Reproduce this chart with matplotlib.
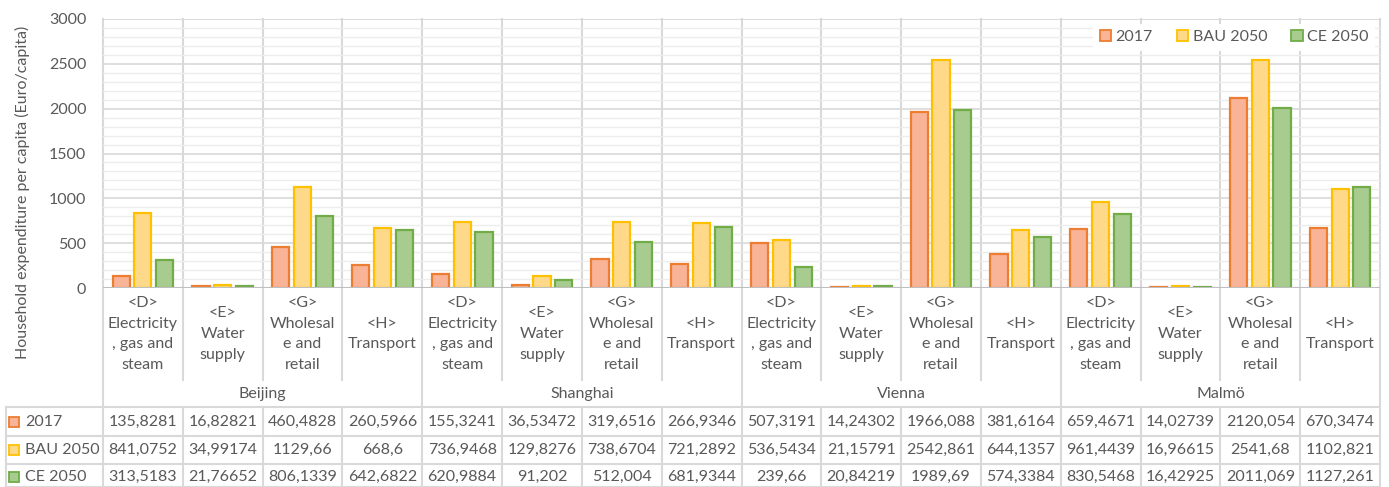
import matplotlib.pyplot as plt
import matplotlib.transforms as mtransforms
from matplotlib.patches import Patch, Rectangle
import numpy as np

plt.rcParams['font.family'] = ['Lato', 'DejaVu Sans']

cities = ['Beijing', 'Shanghai', 'Vienna', 'Malmö']
sectors = ['<D>\nElectricity\n, gas and\nsteam', '<E>\nWater\nsupply',
           '<G>\nWholesal\ne and\nretail', '<H>\nTransport']
series = ['2017', 'BAU 2050', 'CE 2050']

v2017 = [135.8281, 16.82821, 460.4828, 260.5966,
         155.3241, 36.53472, 319.6516, 266.9346,
         507.3191, 14.24302, 1966.088, 381.6164,
         659.4671, 14.02739, 2120.054, 670.3474]
bau2050 = [841.0752, 34.99174, 1129.66, 668.6,
           736.9468, 129.8276, 738.6704, 721.2892,
           536.5434, 21.15791, 2542.861, 644.1357,
           961.4439, 16.96615, 2541.68, 1102.821]
ce2050 = [313.5183, 21.76652, 806.1339, 642.6822,
          620.9884, 91.202, 512.004, 681.9344,
          239.66, 20.84219, 1989.69, 574.3384,
          830.5468, 16.42925, 2011.069, 1127.261]

fills = ['#F9B497', '#FFD98A', '#A8CC8F']
edges = ['#ED7D31', '#FFC000', '#70AD47']
txt = '#595959'
grid = '#D9D9D9'

W, H = 1389, 487
fig = plt.figure(figsize=(W / 100, H / 100), dpi=100)
ax = fig.add_axes([103 / W, 1 - 288 / H, 1277 / W, 269 / H])

n = len(v2017)
x = np.arange(n) + 0.5
offs = [-0.273, 0, 0.273]
for vals, off, fc, ec, lab in zip([v2017, bau2050, ce2050], offs, fills, edges, series):
    ax.bar(x + off, vals, width=0.215, color=fc, edgecolor=ec, linewidth=1.6, label=lab, zorder=3)

ax.set_xlim(0, n)
ax.set_ylim(0, 3000)
ax.set_yticks(np.arange(0, 3001, 500))
ax.set_yticks(np.arange(0, 3001, 100), minor=True)
ax.set_xticks([])
ax.tick_params(axis='y', which='both', length=0, labelsize=11.5, labelcolor=txt, pad=12)
ax.grid(axis='y', which='major', color=grid, lw=1.2, zorder=0)
ax.grid(axis='y', which='minor', color='#EDEDED', lw=1.0, zorder=0)
for s in ['left', 'right', 'bottom', 'top']:
    ax.spines[s].set_visible(False)
ax.axhline(3000, color='#E6E6E6', lw=1.2, zorder=1)
ax.axhline(0, color='#BFBFBF', lw=1.5, zorder=4)

fig.text(22 / W, 1 - 192 / H, 'Household expenditure per capita (Euro/capita)',
         rotation=90, ha='center', va='center', fontsize=11.5, color=txt)

# x in data units, y in pixels from the top of the figure
tr = mtransforms.blended_transform_factory(ax.transData, fig.transFigure)
def fy(p):
    return 1 - p / H

for i in range(n + 1):
    if i % 4 == 0:
        ax.plot([i, i], [fy(19), fy(487)], transform=tr, color=grid, lw=1.5, clip_on=False, zorder=1)
    else:
        ax.plot([i, i], [fy(19), fy(380)], transform=tr, color=grid, lw=1.5, clip_on=False, zorder=1)
        ax.plot([i, i], [fy(407), fy(487)], transform=tr, color=grid, lw=1.5, clip_on=False, zorder=1)

for i in range(n):
    ax.text(i + 0.5, fy(334), sectors[i % 4], transform=tr, ha='center', va='center',
            fontsize=11.5, color=txt, linespacing=1.62)
for j, c in enumerate(cities):
    ax.text(4 * j + 2, fy(394), c, transform=tr, ha='center', va='center', fontsize=11.5, color=txt)

# data table under the chart
xl = (6 - 103) / 79.8
row_y = [407, 436, 464]
for p in row_y + [487]:
    ax.plot([xl, n], [fy(p), fy(p)], transform=tr, color=grid, lw=1.5, clip_on=False)
ax.plot([xl, xl], [fy(407), fy(487)], transform=tr, color=grid, lw=1.5, clip_on=False)
for r, (vals, lab) in enumerate(zip([v2017, bau2050, ce2050], series)):
    yc = (row_y[r] + (row_y[r + 1] if r < 2 else 490)) / 2
    sq = Rectangle(((9 - 103) / 79.8, fy(yc + 5)), 10 / 79.8, 10 / H, transform=tr,
                   facecolor=fills[r], edgecolor=edges[r], lw=1.3, clip_on=False)
    ax.add_patch(sq)
    ax.text((25 - 103) / 79.8, fy(yc), lab, transform=tr, ha='left', va='center',
            fontsize=11.5, color=txt)
    for i, v in enumerate(vals):
        ax.text(i + 0.5, fy(yc), str(v).replace('.', ','), transform=tr, ha='center',
                va='center', fontsize=11.5, color=txt)

handles = [Patch(facecolor=f, edgecolor=e, lw=1.3) for f, e in zip(fills, edges)]
leg = ax.legend(handles, series, ncol=3, loc='upper right', frameon=True, fontsize=11.5,
                handlelength=0.7, handleheight=0.7, handletextpad=0.3, columnspacing=1.5,
                borderaxespad=0.3, labelcolor=txt, fancybox=False)
leg.get_frame().set_edgecolor('none')
leg.get_frame().set_facecolor('white')
leg.get_frame().set_alpha(1)
leg.set_zorder(5)

fig.savefig('out.png', dpi=100)
